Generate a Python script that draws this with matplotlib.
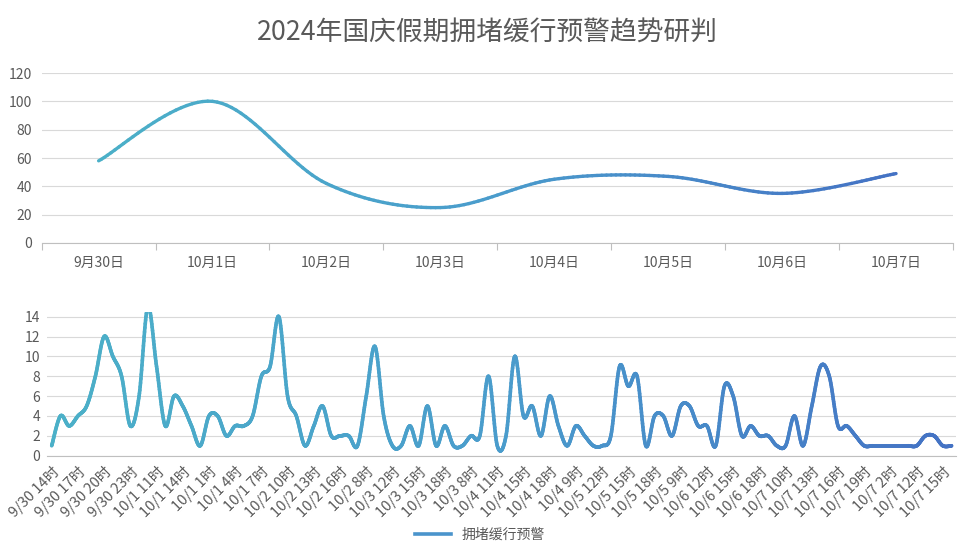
import numpy as np
import matplotlib
matplotlib.use('Agg')
import matplotlib.pyplot as plt
from matplotlib.collections import LineCollection
from matplotlib.colors import LinearSegmentedColormap
from matplotlib.lines import Line2D

plt.rcParams['font.family'] = ['Noto Sans CJK SC', 'DejaVu Sans']

title = '2024年国庆假期拥堵缓行预警趋势研判'

day_labels = ['9月30日', '10月1日', '10月2日', '10月3日', '10月4日', '10月5日', '10月6日', '10月7日']
day_values = [58, 100, 42, 25, 45, 47, 35, 49]

hour_values = [1, 4, 3, 4, 5, 8, 12, 10, 8, 3,
               6, 15, 9, 3, 6, 5, 3, 1, 4, 4,
               2, 3, 3, 4, 8, 9, 14, 6, 4, 1,
               3, 5, 2, 2, 2, 1, 6, 11, 4, 1,
               1, 3, 1, 5, 1, 3, 1, 1, 2, 2,
               8, 1, 2, 10, 4, 5, 2, 6, 3, 1,
               3, 2, 1, 1, 2, 9, 7, 8, 1, 4,
               4, 2, 5, 5, 3, 3, 1, 7, 6, 2,
               3, 2, 2, 1, 1, 4, 1, 5, 9, 8,
               3, 3, 2, 1, 1, 1, 1, 1, 1, 1,
               2, 2, 1, 1]

hour_tick_labels = ['9/30 14时', '9/30 17时', '9/30 20时', '9/30 23时', '10/1 11时', '10/1 14时',
                    '10/1 1时', '10/1 4时', '10/1 7时', '10/2 10时', '10/2 13时', '10/2 16时',
                    '10/2 8时', '10/3 12时', '10/3 15时', '10/3 18时', '10/3 8时', '10/4 11时',
                    '10/4 15时', '10/4 18时', '10/4 9时', '10/5 12时', '10/5 15时', '10/5 18时',
                    '10/5 9时', '10/6 12时', '10/6 15时', '10/6 18时', '10/7 10时', '10/7 13时',
                    '10/7 16时', '10/7 19时', '10/7 2时', '10/7 12时', '10/7 15时']
hour_tick_step = 3
legend_label = '拥堵缓行预警'

TEXT = '#595959'
GRID = '#D9D9D9'
AXIS = '#BFBFBF'
cmap = LinearSegmentedColormap.from_list('g', ['#4BB0C8', '#4A9CCC', '#4472C4'])


def smooth(y, n=24):
    y = np.asarray(y, float)
    x = np.arange(len(y), dtype=float)
    P = np.column_stack([x, y])
    Pe = np.vstack([P[0], P, P[-1]])
    out = []
    t = np.linspace(0, 1, n, endpoint=False)[:, None]
    for i in range(len(P) - 1):
        p0, p3 = Pe[i + 1], Pe[i + 2]
        c1 = p0 + (Pe[i + 2] - Pe[i]) / 6.0
        c2 = p3 - (Pe[i + 3] - Pe[i + 1]) / 6.0
        b = ((1 - t) ** 3) * p0 + 3 * ((1 - t) ** 2) * t * c1 + 3 * (1 - t) * t ** 2 * c2 + t ** 3 * p3
        out.append(b)
    out.append(P[-1][None, :])
    pts = np.vstack(out)
    return pts[:, 0], pts[:, 1]


def gradient_line(ax, y, lw):
    xs, ys = smooth(y)
    pts = np.column_stack([xs, ys]).reshape(-1, 1, 2)
    segs = np.concatenate([pts[:-1], pts[1:]], axis=1)
    lc = LineCollection(segs, cmap=cmap, linewidths=lw, capstyle='round', joinstyle='round')
    lc.set_array((xs[:-1] + xs[1:]) / 2 / max(xs.max(), 1))
    lc.set_clim(0, 1)
    ax.add_collection(lc)


fig = plt.figure(figsize=(9.6, 5.54), dpi=100)
fig.text(0.508, 0.94, title, ha='center', va='center', fontsize=19.3, color=TEXT)

# Top chart
ax1 = fig.add_axes([0.0434, 0.5614, 0.9493, 0.3068])
gradient_line(ax1, day_values, 2.4)
ax1.set_xlim(-0.5, len(day_values) - 0.5)
ax1.set_ylim(0, 120)
ax1.set_yticks(range(0, 121, 20))
ax1.set_xticks(range(len(day_labels)))
ax1.set_xticklabels(day_labels)
ax1.set_xticks(np.arange(-0.5, len(day_values), 1.0), minor=True)
ax1.tick_params(axis='x', which='major', length=0, pad=9, labelsize=10, labelcolor=TEXT)
ax1.tick_params(axis='x', which='minor', length=5, color=AXIS, width=0.8)
ax1.tick_params(axis='y', length=0, pad=7, labelsize=10, labelcolor=TEXT)
ax1.grid(axis='y', color=GRID, lw=0.8)
ax1.set_axisbelow(True)
for s in ['top', 'right', 'left']:
    ax1.spines[s].set_visible(False)
ax1.spines['bottom'].set_color(AXIS)
ax1.spines['bottom'].set_linewidth(0.8)

# Bottom chart
ax2 = fig.add_axes([0.0493, 0.1774, 0.9465, 0.26])
gradient_line(ax2, hour_values, 2.6)
ax2.set_xlim(-0.5, len(hour_values) - 0.5)
ax2.set_ylim(0, 14.5)
ax2.set_yticks(range(0, 15, 2))
tick_pos = np.arange(0, hour_tick_step * len(hour_tick_labels), hour_tick_step)
ax2.set_xticks(tick_pos)
ax2.set_xticklabels(hour_tick_labels, rotation=45, ha='right', va='top', rotation_mode='anchor')
ax2.tick_params(axis='x', length=0, pad=6, labelsize=10.5, labelcolor=TEXT)
ax2.tick_params(axis='y', length=0, pad=5, labelsize=10, labelcolor=TEXT)
ax2.grid(axis='y', color=GRID, lw=0.8)
ax2.set_axisbelow(True)
for s in ['top', 'right', 'left']:
    ax2.spines[s].set_visible(False)
ax2.spines['bottom'].set_color(AXIS)
ax2.spines['bottom'].set_linewidth(0.8)

handle = Line2D([], [], color='#4A94CC', lw=2.6)
fig.legend([handle], [legend_label], loc='center', bbox_to_anchor=(0.5, 0.034),
           frameon=False, fontsize=10, labelcolor=TEXT, handlelength=2.6)

fig.savefig('out.png', dpi=100)
